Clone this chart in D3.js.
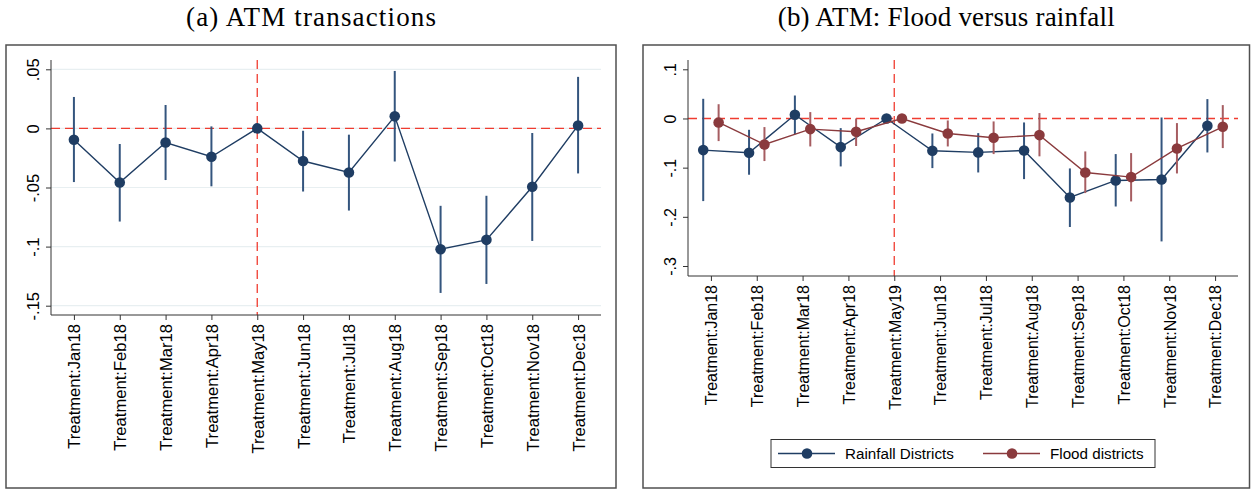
<!DOCTYPE html>
<html>
<head>
<meta charset="utf-8">
<script src="https://cdn.jsdelivr.net/npm/d3@7"></script>
<style>
    body { margin: 0; background: #fff; }
    svg { display: block; }
    text { font-family: "Liberation Sans", Arial, sans-serif; fill: #000; }
</style>
</head>
<body>
<svg id="chart" width="1252" height="491"></svg>
<script>
// months on the x axis
const monthsA = ["Treatment:Jan18", "Treatment:Feb18", "Treatment:Mar18", "Treatment:Apr18", "Treatment:May18", "Treatment:Jun18",
    "Treatment:Jul18", "Treatment:Aug18", "Treatment:Sep18", "Treatment:Oct18", "Treatment:Nov18", "Treatment:Dec18"];
const monthsB = ["Treatment:Jan18", "Treatment:Feb18", "Treatment:Mar18", "Treatment:Apr18", "Treatment:May19", "Treatment:Jun18",
    "Treatment:Jul18", "Treatment:Aug18", "Treatment:Sep18", "Treatment:Oct18", "Treatment:Nov18", "Treatment:Dec18"];

// (a) ATM transactions
const atmCoef = [-0.0096, -0.0458, -0.0119, -0.024, 0, -0.0276, -0.0373, 0.0102, -0.1022, -0.0943, -0.0494, 0.0025];
const atmLo = [-0.0454, -0.0788, -0.0437, -0.049, null, -0.0534, -0.0695, -0.028, -0.1392, -0.1316, -0.0952, -0.0381];
const atmHi = [0.0266, -0.0132, 0.0198, 0.0017, null, -0.002, -0.0053, 0.0486, -0.0655, -0.057, -0.0039, 0.0436];

// (b) flood versus rainfall
const rainCoef = [-0.0643, -0.0697, 0.0075, -0.0582, 0, -0.0657, -0.069, -0.065, -0.1606, -0.126, -0.124, -0.0148];
const rainLo = [-0.168, -0.1144, -0.0318, -0.0975, null, -0.1009, -0.1098, -0.1233, -0.2207, -0.179, -0.25, -0.0691];
const rainHi = [0.040, -0.023, 0.0467, -0.0196, null, -0.0305, -0.0298, -0.0081, -0.1016, -0.0724, 0.002, 0.0394];
const floodCoef = [-0.0081, -0.0528, -0.0216, -0.027, 0, -0.0305, -0.0392, -0.0338, -0.1098, -0.1192, -0.061, -0.0169];
const floodLo = [-0.046, -0.0866, -0.0569, -0.056, null, -0.0569, -0.0724, -0.077, -0.1517, -0.1687, -0.1118, -0.0602];
const floodHi = [0.029, -0.0175, 0.013, 0.0, null, -0.004, -0.006, 0.011, -0.067, -0.0704, -0.0094, 0.0272];

const ticksA = [0.05, 0, -0.05, -0.1, -0.15];
const ticksB = [0.1, 0, -0.1, -0.2, -0.3];

const BLUE = "#1f3d63", BLUE_CI = "#34557e";
const RED = "#8a3a3d", RED_CI = "#a65d61";
const REF = "#f03c30";

const svg = d3.select("#chart");

// stata style number: .05, -.1, 0
const fmt = v => v === 0 ? "0" : String(+v.toFixed(2)).replace(/^(-?)0\./, "$1.");

function drawPanel(p) {
    // outer frame
    svg.append("rect")
        .attr("x", p.frame[0]).attr("y", p.frame[1])
        .attr("width", p.frame[2] - p.frame[0]).attr("height", p.frame[3] - p.frame[1])
        .attr("fill", "none").attr("stroke", "#505050").attr("stroke-width", 1.5);

    // title
    svg.append("text")
        .attr("x", (p.frame[0] + p.frame[2]) / 2).attr("y", 26)
        .attr("text-anchor", "middle")
        .attr("textLength", p.titleLen).attr("lengthAdjust", "spacing")
        .style("font-family", "'Liberation Serif', 'DejaVu Serif', serif")
        .style("font-size", "27px")
        .text(p.title);

    const x = d3.scalePoint().domain(p.labels).range([p.left, p.right]).padding(0.5);
    const y = d3.scaleLinear().domain(p.yDomain).range(p.yRange);

    const g = svg.append("g");

    // gridlines
    if (p.grid) {
        g.append("g").selectAll("line").data(p.ticks).enter().append("line")
            .attr("x1", p.left).attr("x2", p.right)
            .attr("y1", d => y(d)).attr("y2", d => y(d))
            .attr("stroke", "#e8eff1").attr("stroke-width", 1.2);
    }

    // reference lines
    g.append("line")
        .attr("x1", p.left).attr("x2", p.right)
        .attr("y1", y(0)).attr("y2", y(0))
        .attr("stroke", REF).attr("stroke-width", 1.3).attr("stroke-dasharray", "9,5");
    g.append("line")
        .attr("x1", x(p.labels[4])).attr("x2", x(p.labels[4]))
        .attr("y1", p.top).attr("y2", p.bottom)
        .attr("stroke", REF).attr("stroke-width", 1.3).attr("stroke-dasharray", "9,5");

    // y axis
    const ya = g.append("g")
        .attr("transform", `translate(${p.left},0)`)
        .call(d3.axisLeft(y).tickValues(p.ticks).tickFormat(fmt).tickSize(5).tickSizeOuter(0));
    ya.select(".domain").attr("d", `M0,${p.top}V${p.bottom}`).attr("stroke", "#333");
    ya.selectAll(".tick line").attr("stroke", "#333");
    ya.selectAll(".tick text")
        .attr("transform", "rotate(-90)")
        .attr("x", 0).attr("y", -12.5).attr("dy", 0)
        .attr("text-anchor", "middle")
        .style("font-size", p.fontSize + "px");

    // x axis
    const xa = g.append("g")
        .attr("transform", `translate(0,${p.bottom})`)
        .call(d3.axisBottom(x).tickSize(5).tickSizeOuter(0));
    xa.select(".domain").attr("d", `M${p.left},0H${p.right}`).attr("stroke", "#333");
    xa.selectAll(".tick line").attr("stroke", "#333");
    xa.selectAll(".tick text")
        .attr("transform", "rotate(-90)")
        .attr("x", -9).attr("y", 0).attr("dy", "0.36em")
        .attr("text-anchor", "end")
        .style("font-size", p.fontSize + "px");

    // series
    p.series.forEach(s => {
        const rows = p.labels.map((lab, i) => ({ lab: lab, c: s.coef[i], lo: s.lo[i], hi: s.hi[i] }));
        const cx = d => x(d.lab) + s.offset * x.step();

        g.append("path")
            .datum(rows)
            .attr("fill", "none").attr("stroke", s.color).attr("stroke-width", 1.4)
            .attr("d", d3.line().x(cx).y(d => y(d.c)));

        g.append("g").selectAll("line").data(rows.filter(d => d.lo !== null)).enter().append("line")
            .attr("x1", cx).attr("x2", cx)
            .attr("y1", d => y(d.lo)).attr("y2", d => y(d.hi))
            .attr("stroke", s.ciColor).attr("stroke-width", 2);

        g.append("g").selectAll("circle").data(rows).enter().append("circle")
            .attr("cx", cx).attr("cy", d => y(d.c)).attr("r", 5.3)
            .attr("fill", s.color);
    });
}

drawPanel({
    frame: [6, 45, 616, 488],
    title: "(a) ATM transactions", titleLen: 250,
    left: 51, right: 601, top: 60, bottom: 315,
    yDomain: [-0.15, 0.05], yRange: [305.7, 69.3],
    ticks: ticksA, labels: monthsA, grid: true, fontSize: 16.6,
    series: [{ coef: atmCoef, lo: atmLo, hi: atmHi, color: BLUE, ciColor: BLUE_CI, offset: 0 }]
});

drawPanel({
    frame: [643, 45, 1249.5, 488],
    title: "(b) ATM: Flood versus rainfall", titleLen: 337,
    left: 688, right: 1238, top: 60, bottom: 276,
    yDomain: [-0.3, 0.1], yRange: [266, 69.3],
    ticks: ticksB, labels: monthsB, grid: false, fontSize: 16,
    series: [
        { coef: rainCoef, lo: rainLo, hi: rainHi, color: BLUE, ciColor: BLUE_CI, offset: -0.168 },
        { coef: floodCoef, lo: floodLo, hi: floodHi, color: RED, ciColor: RED_CI, offset: 0.168 }
    ]
});

// legend
const legend = svg.append("g");
legend.append("rect")
    .attr("x", 771).attr("y", 439.5).attr("width", 384).attr("height", 28)
    .attr("fill", "#fff").attr("stroke", "#333").attr("stroke-width", 1);

const legendItems = [
    { name: "Rainfall Districts", color: BLUE, x: 778 },
    { name: "Flood districts", color: RED, x: 983 }
];
legendItems.forEach(it => {
    legend.append("line")
        .attr("x1", it.x).attr("x2", it.x + 57).attr("y1", 453.5).attr("y2", 453.5)
        .attr("stroke", it.color).attr("stroke-width", 1.4);
    legend.append("circle")
        .attr("cx", it.x + 29).attr("cy", 453.5).attr("r", 5.3).attr("fill", it.color);
    legend.append("text")
        .attr("x", it.x + 67).attr("y", 459)
        .style("font-size", "15.2px")
        .text(it.name);
});
</script>
</body>
</html>
